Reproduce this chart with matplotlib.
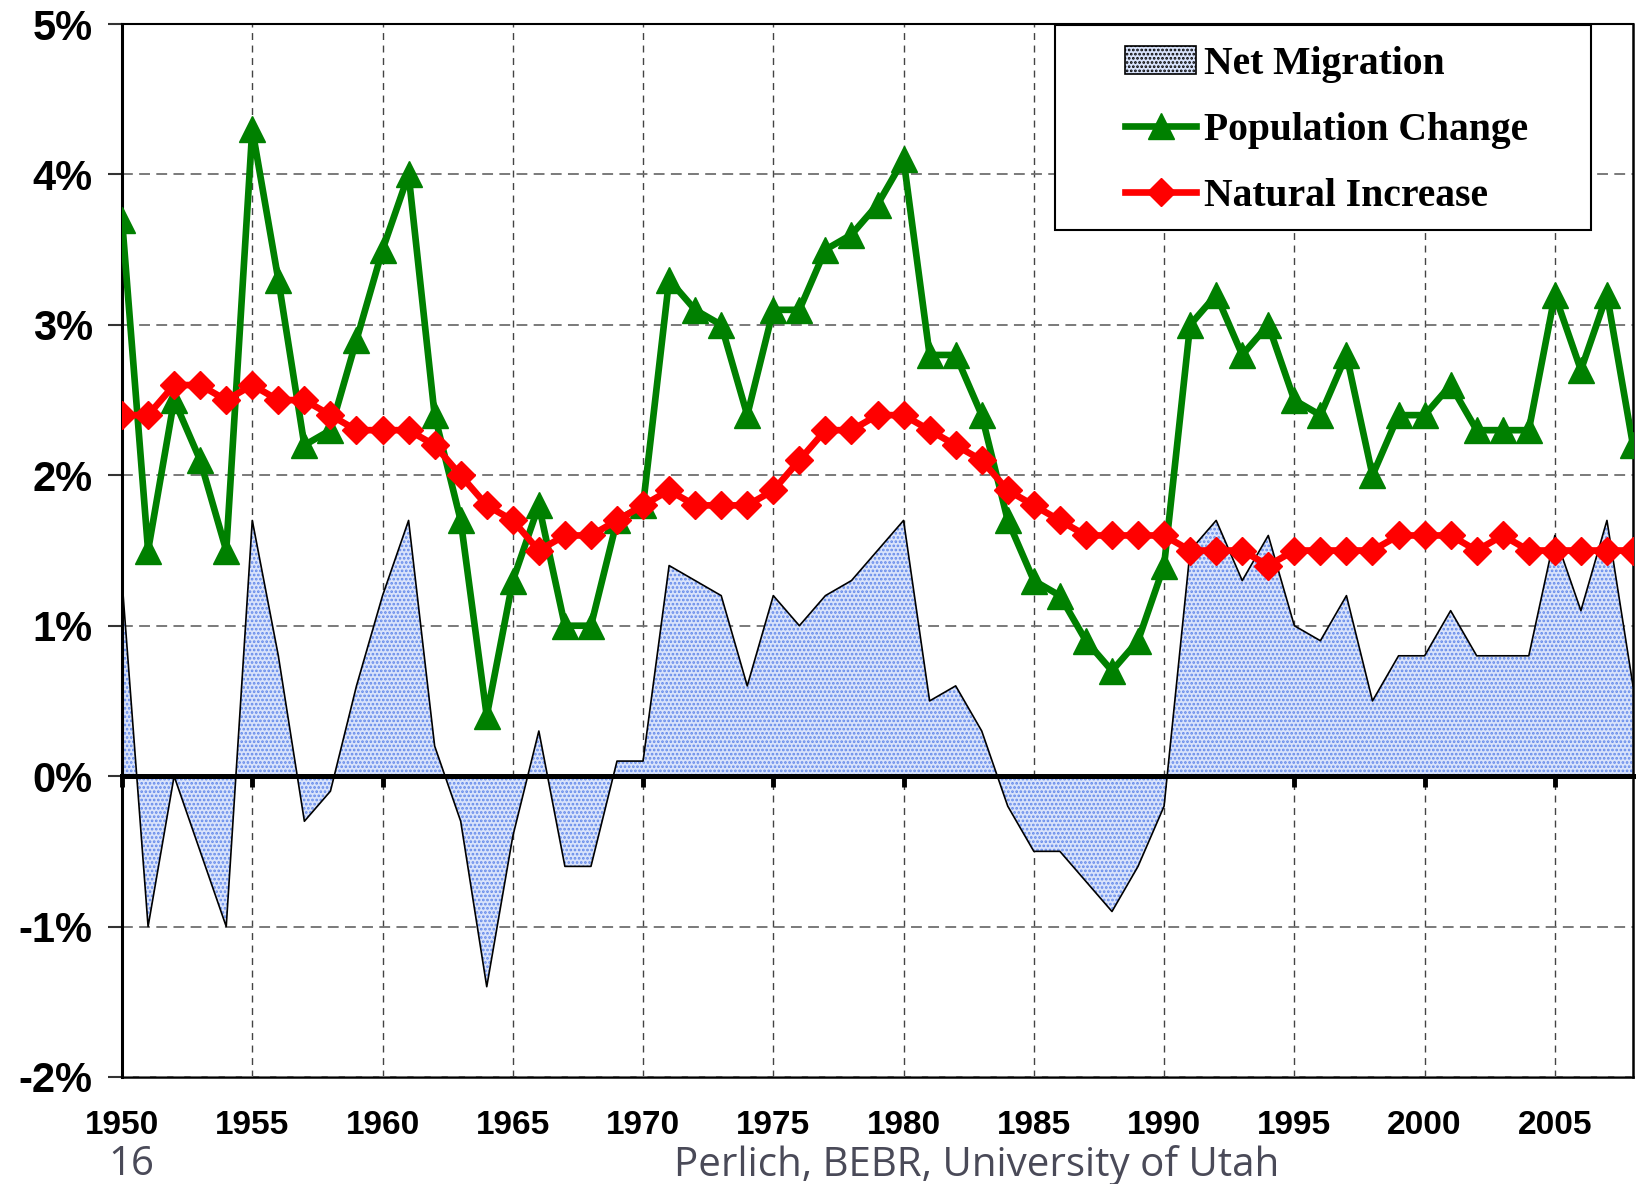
import numpy as np
import matplotlib
matplotlib.use('Agg')
import matplotlib.pyplot as plt
from matplotlib.patches import Rectangle, Patch
from matplotlib.lines import Line2D

# yearly rates in percent, 1950 - 2008
years = list(range(1950, 2009))

pop_change = [3.7, 1.5, 2.5, 2.1, 1.5, 4.3, 3.3, 2.2, 2.3, 2.9,
              3.5, 4.0, 2.4, 1.7, 0.4, 1.3, 1.8, 1.0, 1.0, 1.7,
              1.8, 3.3, 3.1, 3.0, 2.4, 3.1, 3.1, 3.5, 3.6, 3.8,
              4.1, 2.8, 2.8, 2.4, 1.7, 1.3, 1.2, 0.9, 0.7, 0.9,
              1.4, 3.0, 3.2, 2.8, 3.0, 2.5, 2.4, 2.8, 2.0, 2.4,
              2.4, 2.6, 2.3, 2.3, 2.3, 3.2, 2.7, 3.2, 2.2]

natural_increase = [2.4, 2.4, 2.6, 2.6, 2.5, 2.6, 2.5, 2.5, 2.4, 2.3,
                    2.3, 2.3, 2.2, 2.0, 1.8, 1.7, 1.5, 1.6, 1.6, 1.7,
                    1.8, 1.9, 1.8, 1.8, 1.8, 1.9, 2.1, 2.3, 2.3, 2.4,
                    2.4, 2.3, 2.2, 2.1, 1.9, 1.8, 1.7, 1.6, 1.6, 1.6,
                    1.6, 1.5, 1.5, 1.5, 1.4, 1.5, 1.5, 1.5, 1.5, 1.6,
                    1.6, 1.6, 1.5, 1.6, 1.5, 1.5, 1.5, 1.5, 1.5]

net_migration = [1.3, -1.0, 0.0, -0.5, -1.0, 1.7, 0.8, -0.3, -0.1, 0.6,
                 1.2, 1.7, 0.2, -0.3, -1.4, -0.4, 0.3, -0.6, -0.6, 0.1,
                 0.1, 1.4, 1.3, 1.2, 0.6, 1.2, 1.0, 1.2, 1.3, 1.5,
                 1.7, 0.5, 0.6, 0.3, -0.2, -0.5, -0.5, -0.7, -0.9, -0.6,
                 -0.2, 1.5, 1.7, 1.3, 1.6, 1.0, 0.9, 1.2, 0.5, 0.8,
                 0.8, 1.1, 0.8, 0.8, 0.8, 1.6, 1.1, 1.7, 0.6]

y_ticks = [-2, -1, 0, 1, 2, 3, 4, 5]
y_labels = ['-2%', '-1%', '0%', '1%', '2%', '3%', '4%', '5%']
x_ticks = list(range(1950, 2006, 5))

series_names = ['Net Migration', 'Population Change', 'Natural Increase']

plt.rcParams['font.family'] = ['Liberation Sans', 'DejaVu Sans']
plt.rcParams['hatch.linewidth'] = 1.3

fig = plt.figure(figsize=(16.49, 11.84), dpi=100)
ax = fig.add_axes([0.074, 0.0904, 0.9163, 0.8893])

area_face = '#d9e3fb'
area_dots = '#6389ea'

# net migration area (dotted blue fill, thin black outline)
ax.fill_between(years, net_migration, 0, facecolor=area_face, edgecolor=area_dots,
                hatch='....', linewidth=0, zorder=2)
ax.plot(years, net_migration, color='black', lw=1.2, zorder=3)

ax.plot(years, pop_change, color='#008000', lw=4.8, marker='^', ms=19,
        mec='#008000', mfc='#008000', zorder=5)
ax.plot(years, natural_increase, color='#ff0000', lw=4.8, marker='D', ms=14.5,
        mec='#ff0000', mfc='#ff0000', zorder=6)

ax.set_xlim(1950, 2008)
ax.set_ylim(-2, 5)

ax.set_yticks(y_ticks)
ax.set_yticklabels(y_labels, fontsize=30, fontweight='bold')
ax.tick_params(axis='y', length=10, width=1.5, pad=11, color='#333333')

# the main x axis sits on the zero line: thick, with short ticks hanging down
ax.spines['bottom'].set_position(('data', 0))
ax.spines['bottom'].set_linewidth(3.6)
ax.spines['bottom'].set_zorder(8)
ax.set_xticks(x_ticks)
ax.tick_params(axis='x', length=8, width=3.5, direction='out', labelbottom=False,
               color='black')

# the year labels hang from the bottom frame at -2%
year_ax = ax.secondary_xaxis('bottom')
year_ax.set_xticks(x_ticks)
year_ax.set_xticklabels([str(x) for x in x_ticks], fontsize=24, fontweight='bold')
year_ax.tick_params(axis='x', length=0, pad=24)
year_ax.spines['bottom'].set_linewidth(1.8)
year_ax.spines['bottom'].set_color('black')

# grid: gray dashes across, darker dashes down
ax.set_axisbelow(True)
ax.yaxis.grid(True, color='#707070', lw=1.3, dashes=(6, 3.5))
ax.xaxis.grid(True, color='#444444', lw=1.0, dashes=(5, 4))

ax.spines['left'].set_linewidth(2.2)
ax.spines['top'].set_linewidth(1.5)
ax.spines['right'].set_linewidth(1.8)

# legend with its own box
box = Rectangle((1055 / 1649, 1 - 230 / 1184), 536 / 1649, 205 / 1184,
                transform=fig.transFigure, facecolor='white', edgecolor='black',
                lw=1.5, zorder=4)
fig.patches.append(box)

handles = [Patch(facecolor=area_face, edgecolor='black', hatch='....', lw=1.2),
           Line2D([], [], color='#008000', lw=4.8, marker='^', ms=19),
           Line2D([], [], color='#ff0000', lw=4.8, marker='D', ms=14.5)]
fig.legend(handles, series_names, loc='upper left',
           bbox_to_anchor=(1125 / 1649, 1 - 46 / 1184), frameon=False,
           borderpad=0, borderaxespad=0, handlelength=1.8, handletextpad=0.2,
           labelspacing=0.73, numpoints=1,
           prop={'family': 'Liberation Serif', 'weight': 'bold', 'size': 28.5})

fig.text(131 / 1649, 1 - 1165 / 1184, '16', fontsize=29, color='#4a4a58',
         family='Open Sans', ha='center', va='center')
fig.text(977 / 1649, 1 - 1165 / 1184, 'Perlich, BEBR, University of Utah', fontsize=29,
         color='#4a4a58', family='Open Sans', ha='center', va='center')

fig.savefig('out.png', dpi=100)
